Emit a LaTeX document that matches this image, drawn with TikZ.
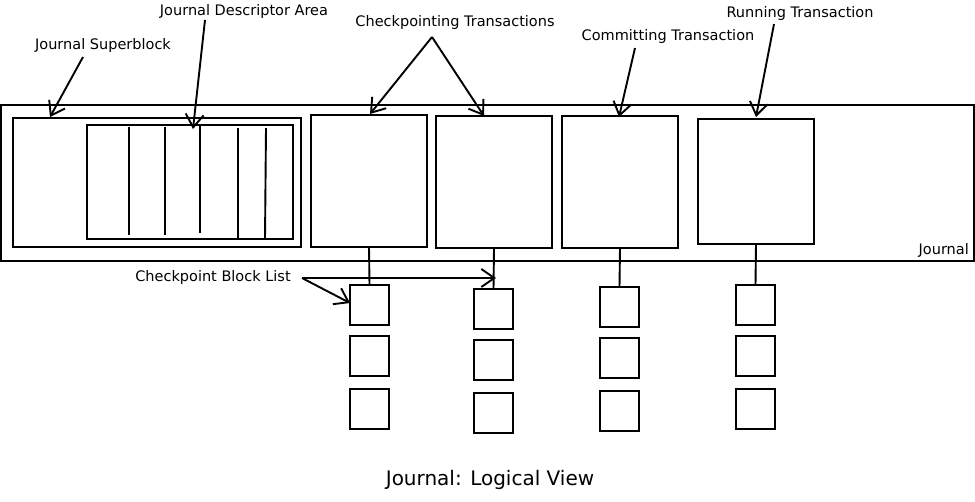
\documentclass[tikz,border=0pt]{standalone}
\usepackage{fontspec}
\setmainfont{DejaVu Sans}
\usetikzlibrary{arrows.meta}
\begin{document}
\begin{tikzpicture}[x=1pt,y=-1pt,
  box/.style={draw,line width=1.9pt,inner sep=0pt,outer sep=0pt,rectangle},
  sbox/.style={box,minimum width=39pt,minimum height=40pt},
  tbox/.style={box,minimum width=116pt,minimum height=132pt},
  lbl/.style={font=\fontsize{14.5}{16}\selectfont,inner sep=0pt},
  link/.style={line width=1.9pt},
  arr/.style={line width=1.9pt,-{Straight Barb[length=13pt,width=18pt,line width=1.9pt]}}]
\useasboundingbox (0,0) rectangle (975,501);
% journal
\node[box,minimum width=973pt,minimum height=156pt] (journal) at (487.5,183) {};
\node[lbl,anchor=east] (jlab) at (969,250) {Journal};
% superblock and descriptor area
\node[box,minimum width=288pt,minimum height=129pt] (sb) at (157,182.5) {};
\node[box,minimum width=206pt,minimum height=114pt] (desc) at (190,182) {};
\draw[link] (129,127) -- (129,235);
\draw[link] (165,127) -- (165,235);
\draw[link] (200,125) -- (200,233);
\draw[link] (238,128) -- (238,238);
\draw[link] (266,128) -- (265,239);
% transactions
\node[tbox] (ct1) at (369,181) {};
\node[tbox] (ct2) at (494,182) {};
\node[tbox] (cm) at (620,182) {};
\node[tbox,minimum height=125pt] (rn) at (756,181.5) {};
% small blocks
\node[sbox] (a1) at (369.5,305) {};
\node[sbox] (a2) at (369.5,356) {};
\node[sbox] (a3) at (369.5,409) {};
\node[sbox] (b1) at (493.5,309) {};
\node[sbox] (b2) at (493.5,360) {};
\node[sbox] (b3) at (493.5,413) {};
\node[sbox] (c1) at (619.5,307) {};
\node[sbox] (c2) at (619.5,358) {};
\node[sbox] (c3) at (619.5,411) {};
\node[sbox] (d1) at (755.5,305) {};
\node[sbox] (d2) at (755.5,356) {};
\node[sbox] (d3) at (755.5,409) {};
\draw[link] (ct1.south) -- (a1.north);
\draw[link] (ct2.south) -- (b1.north);
\draw[link] (cm.south) -- (c1.north);
\draw[link] (rn.south) -- (d1.north);
% labels
\node[lbl] (lsb) at (103,45) {Journal Superblock};
\node[lbl] (ldesc) at (244,11) {Journal Descriptor Area};
\node[lbl] (lct) at (455,22) {Checkpointing Transactions};
\node[lbl] (lcm) at (668,36) {Committing Transaction};
\node[lbl] (lrn) at (800,13) {Running Transaction};
\node[lbl] (lcbl) at (213,277) {Checkpoint Block List};
\node[font=\fontsize{20}{22}\selectfont,inner sep=0pt] (title) at (490,480) {Journal: Logical View};
% label arrows
\coordinate (s1) at (83,57);
\coordinate (t1) at (50,117);
\coordinate (s2) at (205,20);
\coordinate (t2) at (193,129);
\coordinate (s3) at (432,37);
\coordinate (t3a) at (370,114);
\coordinate (t3b) at (484,116);
\coordinate (s4) at (635,48);
\coordinate (t4) at (619,117);
\coordinate (s5) at (774,24);
\coordinate (t5) at (756,117);
\coordinate (s6) at (302,278);
\coordinate (t6a) at (350,303);
\coordinate (t6b) at (496,278);
\draw[arr] (s1) -- (t1);
\draw[arr] (s2) -- (t2);
\draw[arr] (s3) -- (t3a);
\draw[arr] (s3) -- (t3b);
\draw[arr] (s4) -- (t4);
\draw[arr] (s5) -- (t5);
\draw[arr] (s6) -- (t6a);
\draw[arr] (s6) -- (t6b);
\end{tikzpicture}
\end{document}
